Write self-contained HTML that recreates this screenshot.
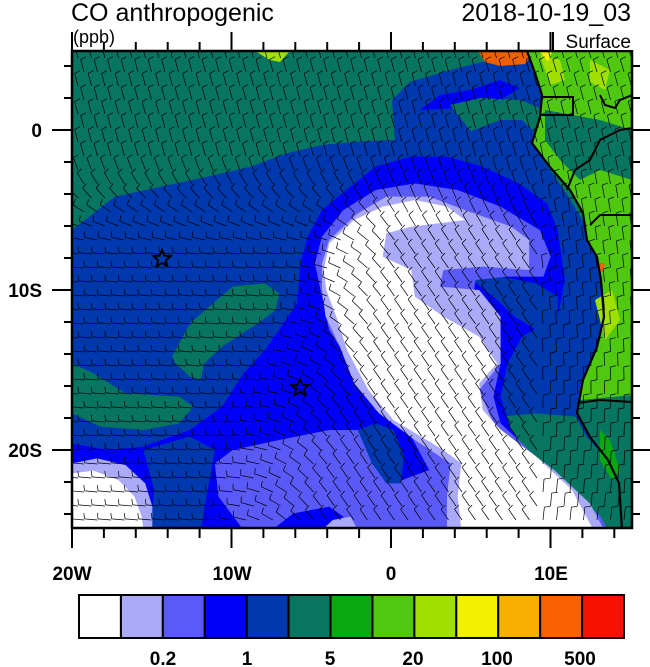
<!DOCTYPE html>
<html><head><meta charset="utf-8"><style>
html,body{margin:0;padding:0;background:#fff;}
svg{display:block;font-family:"Liberation Sans",Arial,sans-serif;font-weight:bold;}
</style></head><body>
<svg id="s" width="650" height="667" viewBox="0 0 650 667" xmlns="http://www.w3.org/2000/svg">
<defs><clipPath id="c"><rect x="72" y="51" width="560" height="477"/></clipPath></defs>
<g clip-path="url(#c)">
<rect x="72" y="51" width="560" height="477" fill="#077560"/>
<polygon fill="#0039ae" points="395,140 392,100 410,82 450,70 490,60 530,56 545,70 545,140"/>
<polygon fill="#0000f8" points="420,110 440,95 470,90 500,80 520,88 500,100 460,108"/>
<polygon fill="#077560" points="450,105 480,98 520,100 545,110 545,205 530,200 500,160 470,130"/>
<polygon fill="#f06000" points="478,51 535,51 525,64 500,66 485,62"/>
<polygon fill="#a0e000" points="255,51 290,51 280,62 270,60"/>
<g transform="translate(72,130) scale(0.35714,0.33333)">
<polygon fill="#0039ae" points="0,300 60,250 120,200 250,170 380,140 500,110 600,70 700,45 800,35 900,30 1000,20 1100,10 1200,-30 1260,-30 1290,0 1300,60 1390,200 1440,290 1470,380 1480,450 1490,560 1470,650 1430,750 1415,850 1450,920 1500,990 1530,1060 1540,1200 0,1200"/>
<polygon fill="#077560" points="280,680 330,580 450,470 540,460 580,490 570,540 520,580 420,650 370,700 360,750 330,740 290,700"/>
<polygon fill="#077560" points="0,700 60,730 150,790 300,800 340,830 300,880 200,900 80,890 0,850"/>
<polygon fill="#077560" points="1200,860 1300,850 1410,860 1440,920 1500,990 1530,1060 1540,1200 1490,1200 1380,1100 1280,1000 1220,950"/>
<polygon fill="#0000f8" points="0,940 100,960 200,950 330,900 420,830 480,730 540,660 580,600 630,520 640,400 660,320 700,240 780,170 850,110 950,80 1050,80 1150,110 1250,160 1330,220 1360,300 1380,450 1360,560 1260,620 1220,700 1200,800 1230,900 1300,1000 1400,1100 1460,1200 0,1200"/>
<polygon fill="#0039ae" points="1120,450 1200,440 1300,460 1360,500 1360,570 1300,600 1240,560 1180,500"/>
<polygon fill="#0039ae" points="200,960 330,920 400,960 380,1080 360,1200 220,1200 230,1080"/>
<polygon fill="#5a5af8" points="680,400 700,320 760,240 850,180 960,160 1080,180 1200,230 1310,300 1340,380 1320,440 1220,440 1130,450 1120,520 1190,600 1200,700 1180,800 1200,880 1280,960 1380,1060 1480,1160 1500,1200 480,1200 410,1100 400,1000 450,960 580,930 720,900 800,900 830,950 870,1020 900,1060 1000,1020 950,920 850,840 780,700 720,600 700,500"/>
<polygon fill="#0039ae" points="800,900 850,880 900,900 930,980 920,1060 880,1060 840,1000"/>
<polygon fill="#0000f8" points="560,1200 620,1150 720,1130 760,1160 740,1200"/>
<polygon fill="#aaaaf8" points="700,400 720,330 800,250 880,200 1000,200 1100,240 1230,290 1280,330 1280,420 1150,410 1040,420 1030,470 1140,480 1200,560 1200,700 1140,780 1180,880 1250,940 1350,1020 1450,1120 1490,1200 1050,1200 1050,1100 1060,1000 960,930 860,850 790,760 750,650 710,560 700,480"/>
<polygon fill="#aaaaf8" points="700,1200 730,1170 780,1160 800,1200"/>
<polygon fill="#ffffff" points="705,420 720,340 790,270 870,230 960,210 1050,230 1100,270 950,290 880,310 870,380 950,420 960,500 1040,560 1140,620 1190,700 1140,760 1150,840 1200,900 1300,980 1400,1080 1460,1200 1090,1200 1080,1100 1090,1000 1040,960 900,870 830,780 770,660 740,560 712,480"/>
<polygon fill="#aaaaf8" points="0,1000 70,985 150,1005 205,1060 225,1130 225,1200 0,1200"/>
<polygon fill="#ffffff" points="0,1030 60,1022 130,1050 175,1100 195,1160 200,1200 0,1200"/>
</g>
<polygon fill="#50c810" points="527,51 535,73 542,95 540,117 532,143 550,167 570,190 583,213 587,240 597,257 601,280 604,317 597,347 583,380 577,413 590,437 608,460 619,483 622,530 632,530 632,51"/>
<polygon fill="#077560" points="545,110 600,120 632,130 632,180 600,170 580,180 560,160 545,140"/>
<polygon fill="#077560" points="580,400 632,395 632,530 622,530 619,483 608,460 590,437 577,413"/>
<polygon fill="#0aa810" points="600,430 610,440 620,470 612,480 600,460"/>
<polygon fill="#a0e000" points="540,55 560,60 565,80 550,85"/>
<polygon fill="#a0e000" points="595,300 612,290 620,320 605,340"/>
<polygon fill="#a0e000" points="590,60 610,70 605,90 590,82"/>
<polygon fill="#f0f000" points="540,52 552,52 548,62"/>
<polygon fill="#f06000" points="600,263 605,263 603,272 599,272"/>
<polyline fill="none" stroke="#000" stroke-width="2.2" points="527,51 535,73 542,95 540,117 532,143 550,167 570,190 583,213 587,240 597,257 601,280 604,317 597,347 583,380 577,413 590,437 608,460 619,483 622,530"/>
<polyline fill="none" stroke="#000" stroke-width="2" points="543,97 573,97 573,115 541,115"/>
<polyline fill="none" stroke="#000" stroke-width="2" points="600,95 605,105 615,108 620,100 632,95"/>
<polyline fill="none" stroke="#000" stroke-width="2" points="590,225 600,215 632,215"/>
<polyline fill="none" stroke="#000" stroke-width="2" points="577,403 600,400 632,402"/>
<polyline fill="none" stroke="#000" stroke-width="2" points="567,190 575,170 590,160 600,140 620,130 632,128"/>
<g id="barbs" stroke="#000" stroke-width="0.7" fill="none"></g>
<g fill="none" stroke="#000" stroke-width="2">
<polygon points="162,250 164.4,255.7 170.5,256.2 165.9,260.2 167.3,266.1 162,263 156.7,266.1 158.1,260.2 153.5,256.2 159.6,255.7"/>
<polygon points="300,379 302.4,384.7 308.5,385.2 303.9,389.2 305.3,395.1 300,392 294.7,395.1 296.1,389.2 291.5,385.2 297.6,384.7"/>
</g>
</g>
<rect x="72" y="51" width="560" height="477" fill="none" stroke="#000" stroke-width="2.5"/>
<g id="ticks" stroke="#000" stroke-width="2"></g>
<g font-size="19" text-anchor="middle">
<text x="72" y="580">20W</text><text x="232" y="580">10W</text><text x="391" y="580">0</text><text x="551" y="580">10E</text>
</g>
<g font-size="19" text-anchor="end">
<text x="42" y="137">0</text><text x="42" y="297">10S</text><text x="42" y="457">20S</text>
</g>
<text x="71" y="21" font-size="25" font-weight="normal">CO anthropogenic</text>
<text x="631" y="21" font-size="25" font-weight="normal" text-anchor="end">2018-10-19_03</text>
<text x="73" y="43" font-size="18" font-weight="normal">(ppb)</text>
<rect x="554" y="30" width="80" height="20" fill="#fff"/>
<line x1="553" y1="32" x2="553" y2="51" stroke="#000" stroke-width="2"/>
<text x="631" y="48" font-size="19" font-weight="normal" text-anchor="end">Surface</text>
<g id="cb" stroke="#000" stroke-width="2"></g>
<g font-size="19" text-anchor="middle">
<text x="163" y="665">0.2</text><text x="247" y="665">1</text><text x="330" y="665">5</text><text x="413" y="665">20</text><text x="497" y="665">100</text><text x="580" y="665">500</text>
</g>
</svg>
<script>
var NS="http://www.w3.org/2000/svg";
function L(g,x1,y1,x2,y2,w){var l=document.createElementNS(NS,"line");l.setAttribute("x1",x1);l.setAttribute("y1",y1);l.setAttribute("x2",x2);l.setAttribute("y2",y2);if(w)l.setAttribute("stroke-width",w);g.appendChild(l);}
var t=document.getElementById("ticks");
for(var y=66;y<=528;y+=32){var maj=((y-130)%160===0);L(t,maj?52:64,y,72,y);L(t,632,y,maj?652:640,y);}
for(var i=0;i<=17;i++){var x=72+i*2*15.95;var m=(i%5===0);
 L(t,x,m?32:42,x,51);L(t,x,528,x,m?548:538);}
var cols=["#ffffff","#aaaaf8","#5a5af8","#0000f8","#0039ae","#077560","#0aa810","#50c810","#a0e000","#f0f000","#f8b000","#f86000","#f81000"];
var cb=document.getElementById("cb");var w=545/13;
for(var i=0;i<13;i++){var r=document.createElementNS(NS,"rect");r.setAttribute("x",79+i*w);r.setAttribute("y",595);r.setAttribute("width",w);r.setAttribute("height",43);r.setAttribute("fill",cols[i]);cb.appendChild(r);}
var b=document.getElementById("barbs");
function sm(a,b,v){var t=Math.min(1,Math.max(0,(v-a)/(b-a)));return t*t*(3-2*t);}
for(var y=58;y<530;y+=14){for(var x=78;x<632;x+=13.5){
 var xx=x+((Math.floor(y/14)%2)?6:0);
 var aTop=-105, aLeft=-175, aPl=-125;
 var ty=sm(150,260,y), tx=sm(280,400,xx+(y-300)*0.3);
 var aLow=aLeft*(1-tx)+aPl*tx;
 var a=aTop*(1-ty)+aLow*ty;
 if(xx>540) a=-100+(y-200)*0.05;
 a=a*Math.PI/180;var len=13;
 var ex=xx+len*Math.cos(a),ey=y+len*Math.sin(a);
 L(b,xx,y,ex,ey);
 var pa=a+Math.PI/2.3;L(b,ex,ey,ex+6*Math.cos(pa),ey+6*Math.sin(pa));
}}
</script>
</body></html>
